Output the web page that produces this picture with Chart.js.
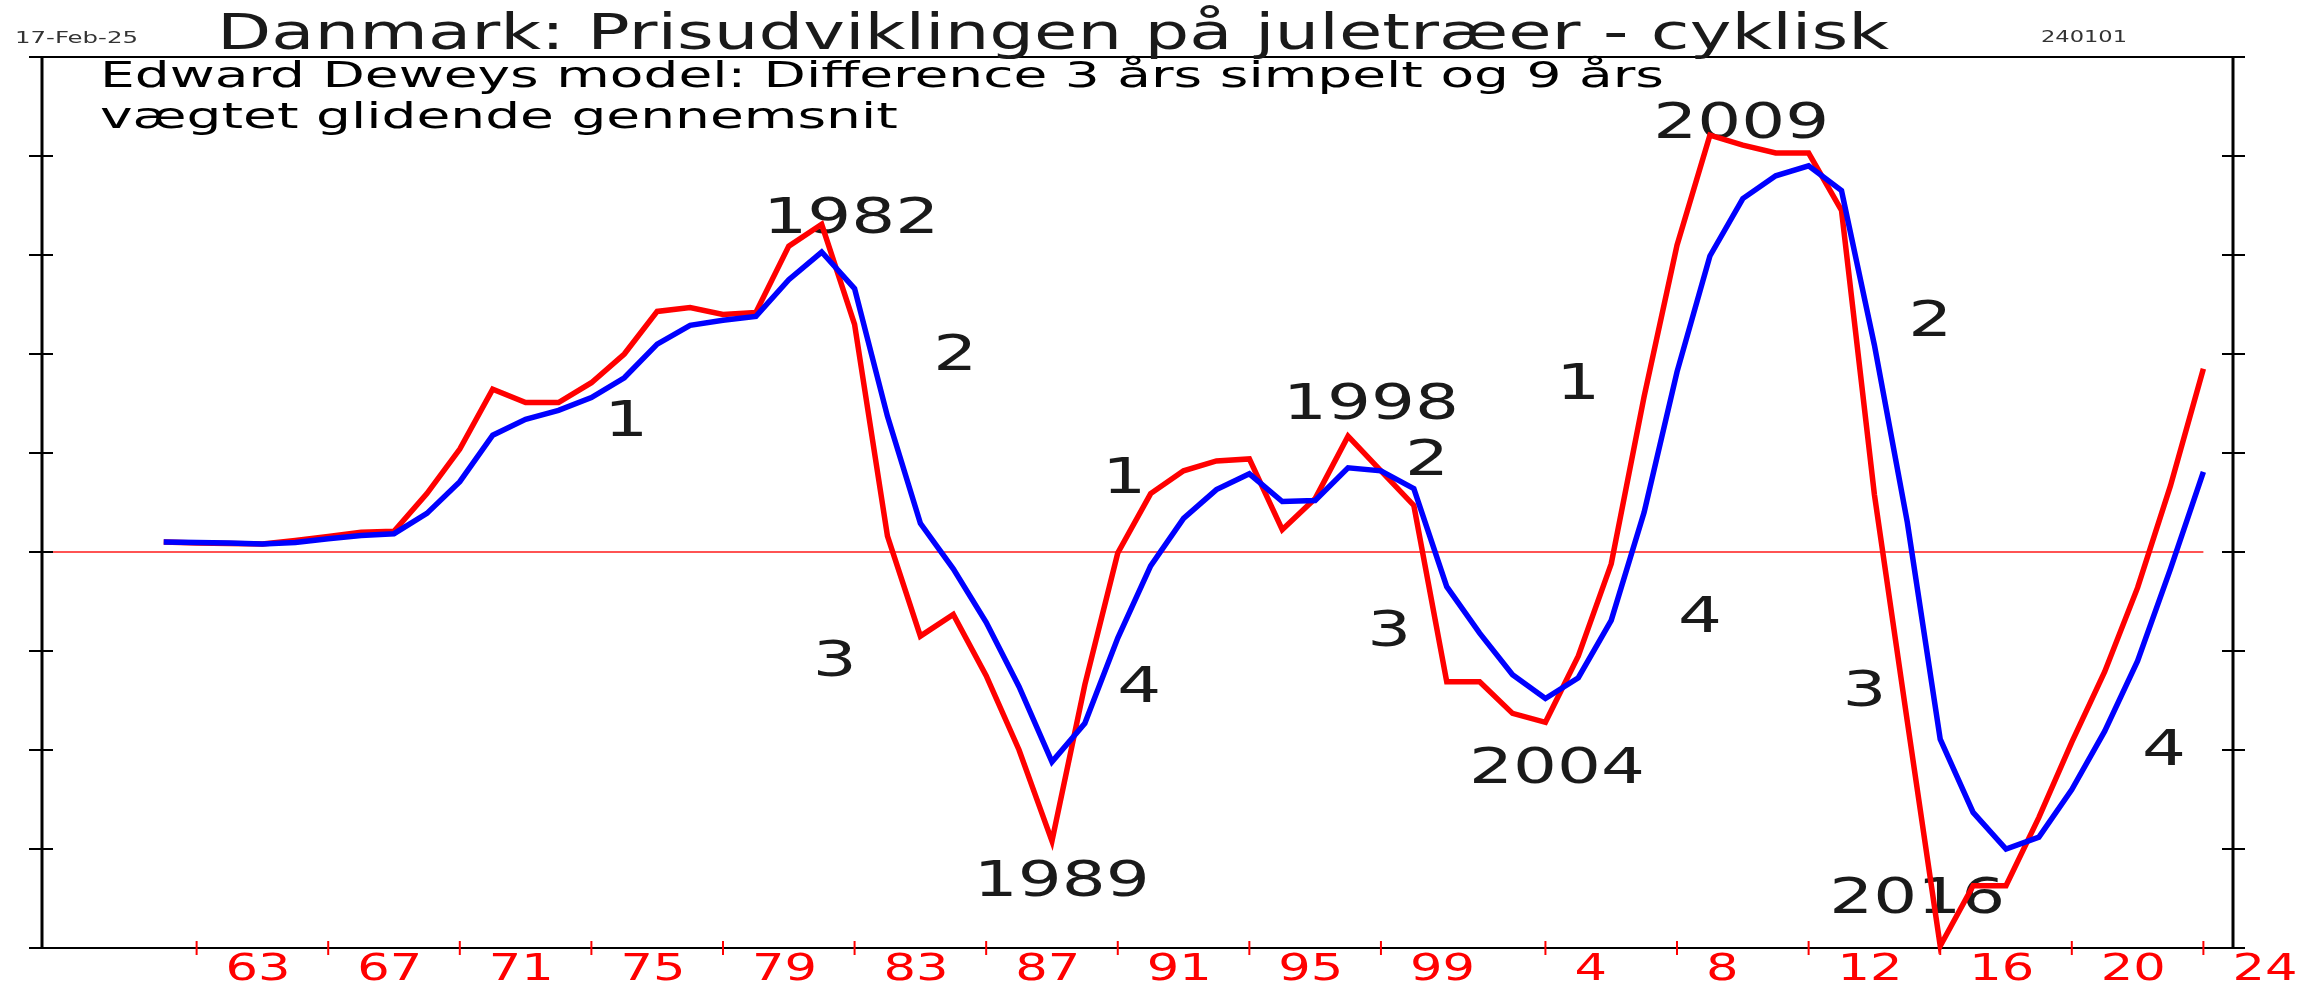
<!DOCTYPE html>
<html>
<head>
<meta charset="utf-8">
<script src="https://cdn.jsdelivr.net/npm/chart.js@4.4.1/dist/chart.umd.min.js"></script>
<style>
  html, body { margin: 0; padding: 0; background: #fff; }
  canvas { display: block; }
</style>
</head>
<body>
<canvas id="cycleChart" width="2303" height="984"></canvas>
<script>
// aar og de to gennemsnit-differencer
const years = [1962, 1963, 1964, 1965, 1966, 1967, 1968, 1969, 1970, 1971,
  1972, 1973, 1974, 1975, 1976, 1977, 1978, 1979, 1980, 1981,
  1982, 1983, 1984, 1985, 1986, 1987, 1988, 1989, 1990, 1991,
  1992, 1993, 1994, 1995, 1996, 1997, 1998, 1999, 2000, 2001,
  2002, 2003, 2004, 2005, 2006, 2007, 2008, 2009, 2010, 2011,
  2012, 2013, 2014, 2015, 2016, 2017, 2018, 2019, 2020, 2021,
  2022, 2023, 2024];
const redSeries = [0.10, 0.09, 0.085, 0.08, 0.117, 0.158, 0.20, 0.21, 0.59, 1.04,
  1.645, 1.51, 1.51, 1.71, 2.00, 2.43, 2.47, 2.40, 2.42, 3.09,
  3.31, 2.30, 0.16, -0.85, -0.63, -1.25, -2.00, -2.92, -1.34, -0.01,
  0.59, 0.82, 0.92, 0.94, 0.225, 0.54, 1.17, 0.82, 0.47, -1.31,
  -1.31, -1.63, -1.72, -1.05, -0.12, 1.57, 3.10, 4.21, 4.11, 4.03,
  4.03, 3.45, 0.58, -1.71, -3.98, -3.37, -3.37, -2.68, -1.92, -1.21,
  -0.36, 0.67, 1.85];
const blueSeries = [0.10, 0.095, 0.09, 0.08, 0.095, 0.134, 0.167, 0.185, 0.39, 0.71,
  1.18, 1.34, 1.43, 1.56, 1.76, 2.10, 2.29, 2.34, 2.38, 2.75,
  3.03, 2.66, 1.37, 0.29, -0.17, -0.71, -1.36, -2.12, -1.73, -0.87,
  -0.14, 0.34, 0.63, 0.79, 0.51, 0.52, 0.85, 0.82, 0.64, -0.35,
  -0.82, -1.24, -1.48, -1.27, -0.69, 0.40, 1.82, 2.99, 3.57, 3.80,
  3.90, 3.65, 2.09, 0.30, -1.89, -2.63, -3.00, -2.88, -2.40, -1.81,
  -1.10, -0.17, 0.81];

const tickYears = [1963, 1967, 1971, 1975, 1979, 1983, 1987, 1991, 1995, 1999,
  2004, 2008, 2012, 2016, 2020, 2024];
const tickLabels = ['63', '67', '71', '75', '79', '83', '87', '91', '95', '99',
  '4', '8', '12', '16', '20', '24'];
const yTicks = [-4, -3, -2, -1, 0, 1, 2, 3, 4, 5];

const titleText = 'Danmark: Prisudviklingen på juletræer - cyklisk';
const subLines = ['Edward Deweys model: Difference 3 års simpelt og 9 års',
  'vægtet glidende gennemsnit'];

// tekster inde i plottet (x = aar, y = grundlinje i y-enheder)
const notes = [
  ['1982', 1982.9, 3.22], ['1989', 1989.3, -3.47], ['1998', 1998.7, 1.34],
  ['2004', 2004.35, -2.33], ['2009', 2009.95, 4.18], ['2016', 2015.3, -3.65],
  ['1', 1976.06, 1.175], ['2', 1986.06, 1.84], ['3', 1982.4, -1.25], ['4', 1991.65, -1.52],
  ['1', 1991.2, 0.60], ['2', 2000.4, 0.78], ['3', 1999.25, -0.95],
  ['1', 2005.0, 1.55], ['4', 2008.7, -0.81], ['2', 2015.7, 2.18], ['3', 2013.7, -1.56],
  ['4', 2022.8, -2.15]
];

const FONT = '"DejaVu Sans"';

function textWidth(ctx, str, size) {
  ctx.save();
  ctx.font = size + 'px ' + FONT;
  const w = ctx.measureText(str).width;
  ctx.restore();
  return w;
}

function putText(ctx, str, x, y, size, sx, align, color) {
  ctx.save();
  ctx.font = size + 'px ' + FONT;
  ctx.fillStyle = color;
  ctx.textAlign = align;
  ctx.textBaseline = 'alphabetic';
  ctx.translate(x, y);
  ctx.scale(sx, 1);
  ctx.fillText(str, 0, 0);
  ctx.restore();
}

function seg(ctx, x1, y1, x2, y2) {
  ctx.beginPath();
  ctx.moveTo(x1, y1);
  ctx.lineTo(x2, y2);
  ctx.stroke();
}

const framePlugin = {
  id: 'frame',
  beforeDatasetsDraw(chart) {
    const { ctx, chartArea: a, scales: { x, y } } = chart;
    ctx.save();

    // nul-linie
    ctx.strokeStyle = '#ff1a1a';
    ctx.lineWidth = 1.5;
    const y0 = y.getPixelForValue(0);
    seg(ctx, a.left, y0, x.getPixelForValue(years[years.length - 1]), y0);

    // ramme og akser
    ctx.strokeStyle = '#000';
    ctx.lineWidth = 3;
    seg(ctx, a.left, a.top, a.left, a.bottom);
    seg(ctx, a.right, a.top, a.right, a.bottom);
    ctx.lineWidth = 2;
    seg(ctx, a.left - 13, a.top, a.right + 12, a.top);
    seg(ctx, a.left - 13, a.bottom, a.right + 12, a.bottom);
    yTicks.forEach(v => {
      const py = y.getPixelForValue(v);
      seg(ctx, a.left - 13, py, a.left + 11, py);
      seg(ctx, a.right - 11, py, a.right + 12, py);
    });

    // x-akse streger og tal
    ctx.strokeStyle = '#ff0000';
    const sxTick = 65 / textWidth(ctx, '63', 37);
    tickYears.forEach((yr, i) => {
      const px = x.getPixelForValue(yr);
      seg(ctx, px, a.bottom - 7, px, a.bottom + 7);
      putText(ctx, tickLabels[i], px + 29, 980, 37, sxTick, 'left', '#ff0000');
    });

    // overskrifter
    const sxTitle = 1672 / textWidth(ctx, titleText, 50);
    putText(ctx, titleText, 217, 49, 50, sxTitle, 'left', '#1a1a1a');
    putText(ctx, '17-Feb-25', 15, 43, 16, 123 / textWidth(ctx, '17-Feb-25', 16), 'left', '#333');
    putText(ctx, '240101', 2041, 42, 16, 86 / textWidth(ctx, '240101', 16), 'left', '#333');
    const sxSub = 1564 / textWidth(ctx, subLines[0], 36);
    putText(ctx, subLines[0], 100, 87, 36, sxSub, 'left', '#000');
    putText(ctx, subLines[1], 100, 128, 36, sxSub, 'left', '#000');

    // vendepunkter og faser
    const sxNote = 176 / textWidth(ctx, '1982', 50);
    notes.forEach(([str, yr, v]) => {
      putText(ctx, str, x.getPixelForValue(yr), y.getPixelForValue(v), 50, sxNote, 'center', '#1a1a1a');
    });

    ctx.restore();
  }
};

const ctx = document.getElementById('cycleChart').getContext('2d');
const cycleChart = new Chart(ctx, {
  type: 'line',
  data: {
    datasets: [{
      label: '3 års simpelt - 9 års vægtet (langsom)',
      data: years.map((yr, i) => ({ x: yr, y: blueSeries[i] })),
      borderColor: '#0000ff',
      borderWidth: 5.5,
      pointRadius: 0,
      tension: 0,
      borderJoinStyle: 'miter',
      clip: false
    }, {
      label: 'Difference',
      data: years.map((yr, i) => ({ x: yr, y: redSeries[i] })),
      borderColor: '#ff0000',
      borderWidth: 5.5,
      pointRadius: 0,
      tension: 0,
      borderJoinStyle: 'miter',
      clip: false
    }]
  },
  options: {
    responsive: false,
    animation: false,
    layout: {
      padding: { left: 42, right: 70, top: 57, bottom: 36 }
    },
    scales: {
      x: { type: 'linear', min: 1958.3, max: 2024.9, display: false },
      y: { min: -4, max: 5, display: false }
    },
    plugins: {
      legend: { display: false },
      tooltip: { enabled: false }
    }
  },
  plugins: [framePlugin]
});
</script>
</body>
</html>
